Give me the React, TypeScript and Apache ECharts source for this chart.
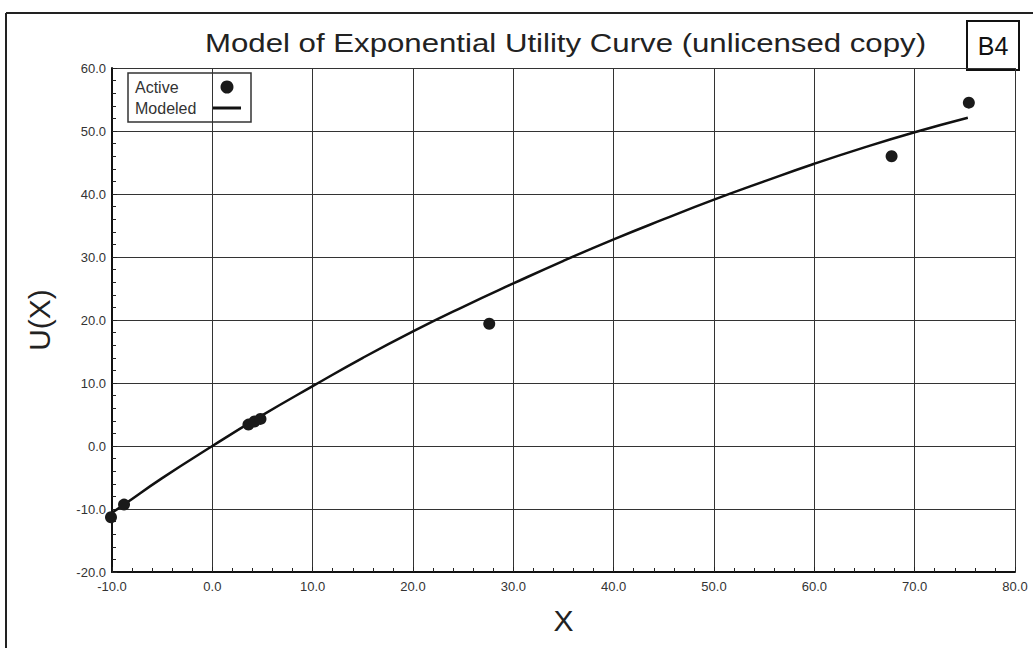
import React, { useEffect, useRef } from "react";
import * as echarts from "echarts";

const activeX = [-10.1, -8.8, 3.6, 4.2, 4.8, 27.6, 67.7, 75.4];
const activeY = [-11.3, -9.3, 3.4, 3.9, 4.3, 19.4, 46.0, 54.5];

const modelX = [-10, -8.8, -5, 0, 5, 10, 15, 20, 25, 30, 35, 40, 45, 50, 55, 60, 65, 70, 75.3];
const modelY = [-10.6, -9.3, -5.1, 0, 4.9, 9.5, 14.0, 18.2, 22.1, 25.8, 29.4, 32.8, 36.0, 39.1, 42.0, 44.8, 47.4, 49.8, 52.1];

const titleText = "Model of Exponential Utility Curve (unlicensed copy)";
const badgeText = "B4";
const xName = "X";
const yName = "U(X)";

const SANS = "'Liberation Sans', Arial, sans-serif";
const NARROW = "'Liberation Sans Narrow', 'Arial Narrow', 'Liberation Sans', sans-serif";

export default function App() {
  const ref = useRef<HTMLDivElement>(null);
  useEffect(() => {
    const chart = echarts.init(ref.current!, null, { renderer: "svg" });
    const fmt = (v: number) => v.toFixed(1);
    chart.setOption({
      animation: false,
      backgroundColor: "#ffffff",
      legend: {
        left: 128,
        top: 73,
        orient: "vertical",
        align: "right",
        borderColor: "#333",
        borderWidth: 1.5,
        padding: [6, 10, 6, 7],
        itemGap: 5,
        itemWidth: 28,
        itemHeight: 13,
        symbolKeepAspect: true,
        formatter: "{a|{name}}",
        textStyle: {
          fontFamily: SANS,
          fontSize: 16,
          color: "#333",
          rich: { a: { width: 73, align: "left", fontFamily: SANS, fontSize: 16, color: "#333" } },
        },
        data: [
          { name: "Active", icon: "circle" },
          { name: "Modeled", icon: "path://M0,0H28V3H0Z" },
        ],
      },
      grid: { left: 112, right: 18, top: 68, bottom: 76 },
      xAxis: {
        type: "value",
        min: -10,
        max: 80,
        interval: 10,
        name: xName,
        nameLocation: "middle",
        nameGap: 33,
        nameTextStyle: { fontFamily: SANS, fontSize: 30, color: "#222" },
        axisLine: { show: true, onZero: false, lineStyle: { color: "#111", width: 2 } },
        axisTick: { show: true, inside: true, length: 5, lineStyle: { color: "#222" } },
        minorTick: { show: true, splitNumber: 5, length: 4, lineStyle: { color: "#222" } },
        axisLabel: { formatter: fmt, fontFamily: NARROW, fontSize: 13, color: "#333", margin: 8 },
        splitLine: { show: true, lineStyle: { color: "#333", width: 1 } },
      },
      yAxis: {
        type: "value",
        min: -20,
        max: 60,
        interval: 10,
        name: yName,
        nameLocation: "middle",
        nameGap: 58,
        nameTextStyle: { fontFamily: SANS, fontSize: 30, color: "#222" },
        axisLine: { show: true, onZero: false, lineStyle: { color: "#111", width: 2 } },
        axisTick: { show: true, inside: true, length: 5, lineStyle: { color: "#222" } },
        minorTick: { show: true, splitNumber: 5, length: 4, lineStyle: { color: "#222" } },
        axisLabel: { formatter: fmt, fontFamily: NARROW, fontSize: 13, color: "#333", margin: 6 },
        splitLine: { show: true, lineStyle: { color: "#333", width: 1 } },
      },
      series: [
        {
          name: "Active",
          type: "scatter",
          data: activeX.map((x, i) => [x, activeY[i]]),
          symbol: "circle",
          symbolSize: 12,
          itemStyle: { color: "#1a1a1a", opacity: 1 },
          clip: false,
          z: 3,
        },
        {
          name: "Modeled",
          type: "line",
          data: modelX.map((x, i) => [x, modelY[i]]),
          smooth: true,
          symbol: "none",
          lineStyle: { color: "#111", width: 2.5 },
          itemStyle: { color: "#111" },
          z: 2,
        },
      ],
      graphic: [
        { type: "line", shape: { x1: 6, y1: 13, x2: 1033, y2: 13 }, style: { stroke: "#222", lineWidth: 2 } },
        { type: "line", shape: { x1: 6, y1: 13, x2: 6, y2: 648 }, style: { stroke: "#222", lineWidth: 2 } },
        {
          type: "text",
          x: 205,
          y: 43,
          scaleX: 1.2,
          style: { text: titleText, fontFamily: SANS, fontSize: 26, fill: "#222", verticalAlign: "middle" },
        },
        {
          type: "group",
          left: 966,
          top: 20,
          children: [
            { type: "rect", shape: { x: 0, y: 0, width: 52, height: 49 }, style: { fill: "#fff", stroke: "#111", lineWidth: 2 } },
            {
              type: "text",
              x: 26,
              y: 25,
              style: { text: badgeText, fontFamily: SANS, fontSize: 25, fill: "#111", align: "center", verticalAlign: "middle" },
            },
          ],
        },
      ],
    });
    return () => chart.dispose();
  }, []);
  return <div ref={ref} style={{ position: "absolute", left: 0, top: 0, width: 1033, height: 648 }} />;
}
